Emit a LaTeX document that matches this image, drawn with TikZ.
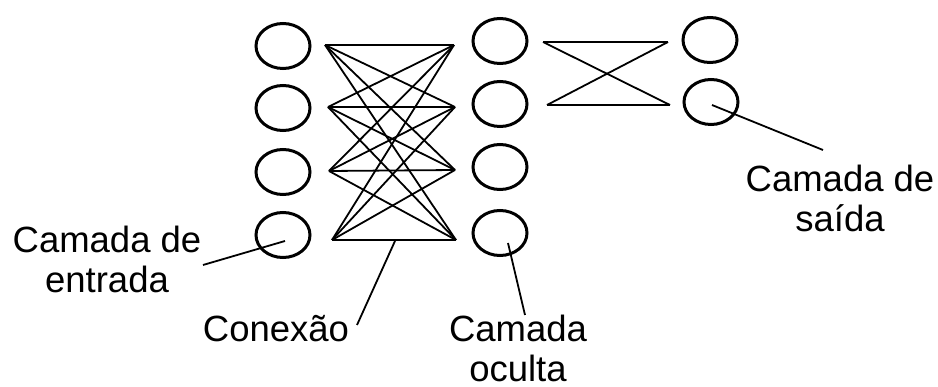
\documentclass[tikz,border=0pt]{standalone}
\usepackage{fontspec}
\setmainfont{Liberation Sans}
\usetikzlibrary{shapes.geometric}
\tikzset{
  neuron/.style={ellipse, draw, line width=3pt, minimum width=54pt, minimum height=45pt, inner sep=0pt},
  link/.style={line width=1.8pt},
  callout/.style={line width=1.8pt},
  lbl/.style={align=center, font=\fontsize{36.5pt}{40pt}\selectfont, inner sep=0pt, anchor=base}
}
\begin{document}
\begin{tikzpicture}[x=1pt,y=-1pt]
\useasboundingbox (0,0) rectangle (938,387);
% input layer
\node[neuron] (i1) at (283,46) {};
\node[neuron] (i2) at (283,108) {};
\node[neuron] (i3) at (283,172) {};
\node[neuron] (i4) at (283,235) {};
% hidden layer
\node[neuron] (h1) at (500,41) {};
\node[neuron] (h2) at (500,104) {};
\node[neuron] (h3) at (500,167) {};
\node[neuron] (h4) at (500,233) {};
% output layer
\node[neuron] (o1) at (710,40) {};
\node[neuron] (o2) at (711,102) {};
% connection endpoints
\coordinate (a1) at (325,45);
\coordinate (a2) at (328,107);
\coordinate (a3) at (329,171);
\coordinate (a4) at (332,240);
\coordinate (b1) at (454,45);
\coordinate (b2) at (455,107);
\coordinate (b3) at (455,170);
\coordinate (b4) at (456,240);
\foreach \i in {1,2,3,4}{
  \foreach \j in {1,2,3,4}{
    \draw[link] (a\i) -- (b\j);
  }
}
\coordinate (c1) at (543,42);
\coordinate (c2) at (547,105);
\coordinate (d1) at (668,42);
\coordinate (d2) at (670,105);
\foreach \i in {1,2}{
  \foreach \j in {1,2}{
    \draw[link] (c\i) -- (d\j);
  }
}
% labels (base = baseline of last line)
\node[lbl] (lin) at (107,293) {Camada de\\entrada};
\node[lbl] (lcon) at (276,342) {Conexão};
\node[lbl] (lhid) at (518,382) {Camada\\oculta};
\node[lbl] (lout) at (840,232) {Camada de\\saída};
% callouts
\coordinate (pin) at (285,241);
\coordinate (tin) at (203,265);
\draw[callout] (pin) -- (tin);
\coordinate (pcon) at (395,241);
\coordinate (tcon) at (357,325);
\draw[callout] (pcon) -- (tcon);
\coordinate (phid) at (508,243);
\coordinate (thid) at (525,315);
\draw[callout] (phid) -- (thid);
\coordinate (pout) at (712,105);
\coordinate (tout) at (823,150);
\draw[callout] (pout) -- (tout);
\end{tikzpicture}
\end{document}
